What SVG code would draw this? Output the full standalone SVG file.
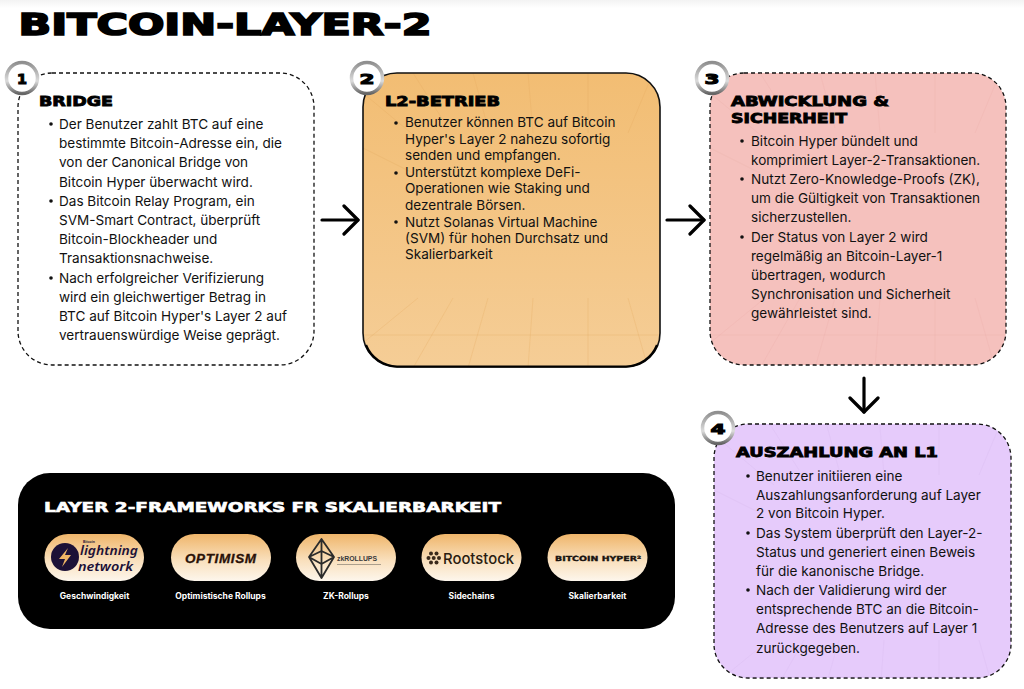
<svg xmlns="http://www.w3.org/2000/svg" xmlns:xlink="http://www.w3.org/1999/xlink" width="1024" height="689" viewBox="0 0 1024 689">
<style>
.head{font-family:"DejaVu Sans",sans-serif;font-weight:700;font-size:13.500px;fill:#000;stroke:#000;stroke-width:.85}
.body{font-family:Inter,"Liberation Sans",sans-serif;font-size:13.550px;fill:#111}
.num{font-family:"DejaVu Sans",sans-serif;font-weight:700;font-size:14.500px;fill:#000;stroke:#000;stroke-width:1.100;text-anchor:middle}
.cap{font-family:Inter,"Liberation Sans",sans-serif;font-weight:700;font-size:8.500px;fill:#fff;text-anchor:middle}
.conn{fill:none;stroke:#000;stroke-width:3.200;stroke-linecap:round;marker-end:url(#open)}
.grid{fill:none;stroke-width:.6}
.dash{stroke:#111;stroke-width:1.300;stroke-dasharray:4 3}
.pill{fill:url(#pillfill)}
.ring{fill:#fff;stroke:url(#ringfill);stroke-width:3.500}
</style>
<defs>
<marker id="open" viewBox="0 0 24 32" refX="21" refY="16" markerWidth="24" markerHeight="32" markerUnits="userSpaceOnUse" orient="auto">
<path d="M7 2 L21 16 L7 30" fill="none" stroke="#000" stroke-width="3.200" stroke-linecap="round" stroke-linejoin="round"/>
</marker>
<linearGradient id="orange" x1="0" y1="0" x2="0" y2="1"><stop offset="0" stop-color="#f2bd73"/><stop offset="1" stop-color="#f5cd96"/></linearGradient>
<linearGradient id="pillfill" x1="0" y1="0" x2="0" y2="1"><stop offset="0" stop-color="#efb56a"/><stop offset=".55" stop-color="#f9dfbb"/><stop offset="1" stop-color="#fdf6ec"/></linearGradient>
<linearGradient id="ringfill" x1="0" y1="0" x2="0" y2="1"><stop offset="0" stop-color="#8f8f8f"/><stop offset=".6" stop-color="#dcdcdc"/><stop offset="1" stop-color="#666"/></linearGradient>
<linearGradient id="top" x1="0" y1="0" x2="0" y2="1"><stop offset="0" stop-color="#f3f3f3"/><stop offset="1" stop-color="#fff"/></linearGradient>
<g id="persp" class="grid">
<path d="M0 20 L60 70 M50 0 L85 55 M110 0 L125 55 M165 0 L170 60 M225 0 L225 60 M290 0 L265 60 M0 75 L50 100"/>
<path d="M0 270 L55 225 M50 295 L90 225 M105 295 L125 225 M165 295 L170 225 M225 295 L225 225 M285 295 L265 225 M0 262 L296 262"/>
</g>
<clipPath id="c2"><rect x="363" y="73" width="297" height="294" rx="34"/></clipPath>
<clipPath id="c3"><rect x="710" y="73" width="296" height="292" rx="34"/></clipPath>
<clipPath id="c4"><rect x="714" y="424" width="297" height="254" rx="34"/></clipPath>
</defs>
<rect width="1024" height="689" fill="#fff"/>
<rect width="1024" height="8" fill="url(#top)"/>
<text id="title" x="18.500" y="35" font-family="'DejaVu Sans',sans-serif" font-weight="700" font-size="29.500" stroke="#000" stroke-width="1.700" textLength="413" lengthAdjust="spacingAndGlyphs">BITCOIN-LAYER-2</text>

<g id="connectors">
<path class="conn" d="M322 220 L358 220"/>
<path class="conn" d="M667 220 L704 220"/>
<path class="conn" d="M864 378 L864 412"/>
</g>

<g id="node-1">
<rect class="dash" x="18" y="73" width="296" height="292" rx="34" fill="#fff"/>
<circle class="ring" cx="22" cy="78" r="15.500"/>
<text class="num" x="22" y="84" textLength="10" lengthAdjust="spacingAndGlyphs">1</text>
<text class="head" x="39" y="106" textLength="74" lengthAdjust="spacingAndGlyphs">BRIDGE</text>
<g class="body">
<circle cx="51" cy="124" r="1.800"/><text x="59" y="129">Der Benutzer zahlt BTC auf eine</text>
<text x="59" y="148">bestimmte Bitcoin-Adresse ein, die</text>
<text x="59" y="167">von der Canonical Bridge von</text>
<text x="59" y="187">Bitcoin Hyper überwacht wird.</text>
<circle cx="51" cy="201" r="1.800"/><text x="59" y="206">Das Bitcoin Relay Program, ein</text>
<text x="59" y="225">SVM-Smart Contract, überprüft</text>
<text x="59" y="244">Bitcoin-Blockheader und</text>
<text x="59" y="263">Transaktionsnachweise.</text>
<circle cx="51" cy="278" r="1.800"/><text x="59" y="283">Nach erfolgreicher Verifizierung</text>
<text x="59" y="302">wird ein gleichwertiger Betrag in</text>
<text x="59" y="321">BTC auf Bitcoin Hyper's Layer 2 auf</text>
<text x="59" y="340">vertrauenswürdige Weise geprägt.</text>
</g>
</g>

<g id="node-2">
<rect x="363" y="73" width="297" height="294" rx="34" fill="url(#orange)"/>
<g clip-path="url(#c2)"><use href="#persp" x="363" y="73" stroke="#e3a95c" stroke-opacity=".45"/></g>
<rect x="363" y="73" width="297" height="294" rx="34" fill="none" stroke="#111" stroke-width="1.600"/>
<path d="M366 345 A34 34 0 0 0 397 366.500 H626 A34 34 0 0 0 657 345" fill="none" stroke="#000" stroke-width="2.200"/>
<circle class="ring" cx="367" cy="78" r="15.500"/>
<text class="num" x="367" y="84" textLength="15" lengthAdjust="spacingAndGlyphs">2</text>
<text class="head" x="385" y="106" textLength="115" lengthAdjust="spacingAndGlyphs">L2-BETRIEB</text>
<g class="body">
<circle cx="396" cy="123" r="1.800"/><text x="405" y="127">Benutzer können BTC auf Bitcoin</text>
<text x="405" y="144">Hyper's Layer 2 nahezu sofortig</text>
<text x="405" y="160">senden und empfangen.</text>
<circle cx="396" cy="173" r="1.800"/><text x="405" y="177">Unterstützt komplexe DeFi-</text>
<text x="405" y="193">Operationen wie Staking und</text>
<text x="405" y="210">dezentrale Börsen.</text>
<circle cx="396" cy="222" r="1.800"/><text x="405" y="227">Nutzt Solanas Virtual Machine</text>
<text x="405" y="243">(SVM) für hohen Durchsatz und</text>
<text x="405" y="259">Skalierbarkeit</text>
</g>
</g>

<g id="node-3">
<rect class="dash" x="710" y="73" width="296" height="292" rx="34" fill="#f5c1bd"/>
<g clip-path="url(#c3)"><use href="#persp" x="710" y="73" stroke="#e9aaa6" stroke-opacity=".4"/></g>
<circle class="ring" cx="712" cy="78" r="15.500"/>
<text class="num" x="712" y="84" textLength="15" lengthAdjust="spacingAndGlyphs">3</text>
<text class="head" x="731" y="106" textLength="158" lengthAdjust="spacingAndGlyphs">ABWICKLUNG &amp;</text>
<text class="head" x="731" y="123" textLength="116" lengthAdjust="spacingAndGlyphs">SICHERHEIT</text>
<g class="body">
<circle cx="742" cy="141" r="1.800"/><text x="751" y="146">Bitcoin Hyper bündelt und</text>
<text x="751" y="165">komprimiert Layer-2-Transaktionen.</text>
<circle cx="742" cy="179" r="1.800"/><text x="751" y="184">Nutzt Zero-Knowledge-Proofs (ZK),</text>
<text x="751" y="203">um die Gültigkeit von Transaktionen</text>
<text x="751" y="222">sicherzustellen.</text>
<circle cx="742" cy="237" r="1.800"/><text x="751" y="242">Der Status von Layer 2 wird</text>
<text x="751" y="261">regelmäßig an Bitcoin-Layer-1</text>
<text x="751" y="280">übertragen, wodurch</text>
<text x="751" y="299">Synchronisation und Sicherheit</text>
<text x="751" y="318">gewährleistet sind.</text>
</g>
</g>

<g id="node-4">
<rect class="dash" x="714" y="424" width="297" height="254" rx="34" fill="#e6cbfb"/>
<g clip-path="url(#c4)"><use href="#persp" x="714" y="415" stroke="#d5b8ee" stroke-opacity=".45"/></g>
<circle class="ring" cx="718" cy="428" r="15.500"/>
<text class="num" x="718" y="434" textLength="15" lengthAdjust="spacingAndGlyphs">4</text>
<text class="head" x="736" y="457" textLength="202" lengthAdjust="spacingAndGlyphs">AUSZAHLUNG AN L1</text>
<g class="body">
<circle cx="748" cy="476" r="1.800"/><text x="756" y="481">Benutzer initiieren eine</text>
<text x="756" y="500">Auszahlungsanforderung auf Layer</text>
<text x="756" y="518">2 von Bitcoin Hyper.</text>
<circle cx="748" cy="533" r="1.800"/><text x="756" y="538">Das System überprüft den Layer-2-</text>
<text x="756" y="557">Status und generiert einen Beweis</text>
<text x="756" y="576">für die kanonische Bridge.</text>
<circle cx="748" cy="590" r="1.800"/><text x="756" y="595">Nach der Validierung wird der</text>
<text x="756" y="614">entsprechende BTC an die Bitcoin-</text>
<text x="756" y="633">Adresse des Benutzers auf Layer 1</text>
<text x="756" y="653">zurückgegeben.</text>
</g>
</g>

<g id="frameworks">
<rect x="18" y="473" width="657" height="156" rx="32" fill="#000"/>
<text x="44" y="512" font-family="'DejaVu Sans',sans-serif" font-weight="700" font-size="13.500" fill="#fff" stroke="#fff" stroke-width=".6" textLength="457" lengthAdjust="spacingAndGlyphs">LAYER 2-FRAMEWORKS FR SKALIERBARKEIT</text>

<g id="fw-lightning">
<rect class="pill" x="44.500" y="534" width="99.500" height="47" rx="23.500"/>
<circle cx="65" cy="557" r="14" fill="#1c1137"/>
<path d="M68 548 L59 559 H65 L62 567 L71 555 H65 Z" fill="#f0b565"/>
<text x="83" y="543" font-family="'Liberation Sans',sans-serif" font-weight="700" font-size="3.500" fill="#1c1137">Bitcoin</text>
<text x="80" y="555" font-family="'Noto Sans',sans-serif" font-weight="600" font-style="italic" font-size="12.500" fill="#1c1137" textLength="58" lengthAdjust="spacingAndGlyphs">lightning</text>
<text x="78" y="571" font-family="'Noto Sans',sans-serif" font-weight="600" font-style="italic" font-size="13" fill="#1c1137" textLength="55" lengthAdjust="spacingAndGlyphs">network</text>
<text class="cap" x="94.500" y="599">Geschwindigkeit</text>
</g>

<g id="fw-optimism">
<rect class="pill" x="171" y="534" width="100" height="47" rx="23.500"/>
<text x="185" y="563" font-family="'Liberation Sans',sans-serif" font-weight="700" font-style="italic" font-size="13.500" fill="#2a1208" stroke="#2a1208" stroke-width=".3" textLength="71" lengthAdjust="spacing">OPTIMISM</text>
<text class="cap" x="220.500" y="599">Optimistische Rollups</text>
</g>

<g id="fw-zk">
<rect class="pill" x="296" y="534" width="100" height="47" rx="23.500"/>
<path d="M321.500 539 L334 557 L321.500 578 L309 557 Z M321.500 539 V578 M309 557 L321.500 551 L334 557 L321.500 564 Z" fill="none" stroke="#2b2b2b" stroke-width="1.800" stroke-linejoin="round"/>
<text x="337" y="561" font-family="'Liberation Sans',sans-serif" font-weight="700" font-size="8" fill="#3a3a3a" textLength="40" lengthAdjust="spacingAndGlyphs">zkROLLUPS</text>
<path d="M337 564.500 H381" stroke="#3a3a3a" stroke-opacity=".45" stroke-width=".9" fill="none"/>
<text class="cap" x="346" y="599">ZK-Rollups</text>
</g>

<g id="fw-rootstock">
<rect class="pill" x="421.500" y="534" width="100" height="47" rx="23.500"/>
<g fill="#3a2a1c"><circle cx="431" cy="553.500" r="2"/><circle cx="436.500" cy="553.500" r="2"/><circle cx="428.500" cy="558" r="2"/><circle cx="433.700" cy="558" r="2"/><circle cx="439" cy="558" r="2"/><circle cx="431" cy="562.500" r="2"/><circle cx="436.500" cy="562.500" r="2"/></g>
<text x="443" y="563.500" font-family="Inter,sans-serif" font-weight="500" font-size="15" fill="#2a1c10" textLength="71" lengthAdjust="spacingAndGlyphs">Rootstock</text>
<text class="cap" x="471.500" y="599">Sidechains</text>
</g>

<g id="fw-hyper">
<rect class="pill" x="547.500" y="534" width="100" height="47" rx="23.500"/>
<text x="555" y="561" font-family="'DejaVu Sans',sans-serif" font-weight="700" font-size="7" fill="#1a1410" stroke="#1a1410" stroke-width=".35" textLength="86" lengthAdjust="spacingAndGlyphs">BITCOIN HYPER²</text>
<text class="cap" x="597.500" y="599">Skalierbarkeit</text>
</g>
</g>
</svg>
